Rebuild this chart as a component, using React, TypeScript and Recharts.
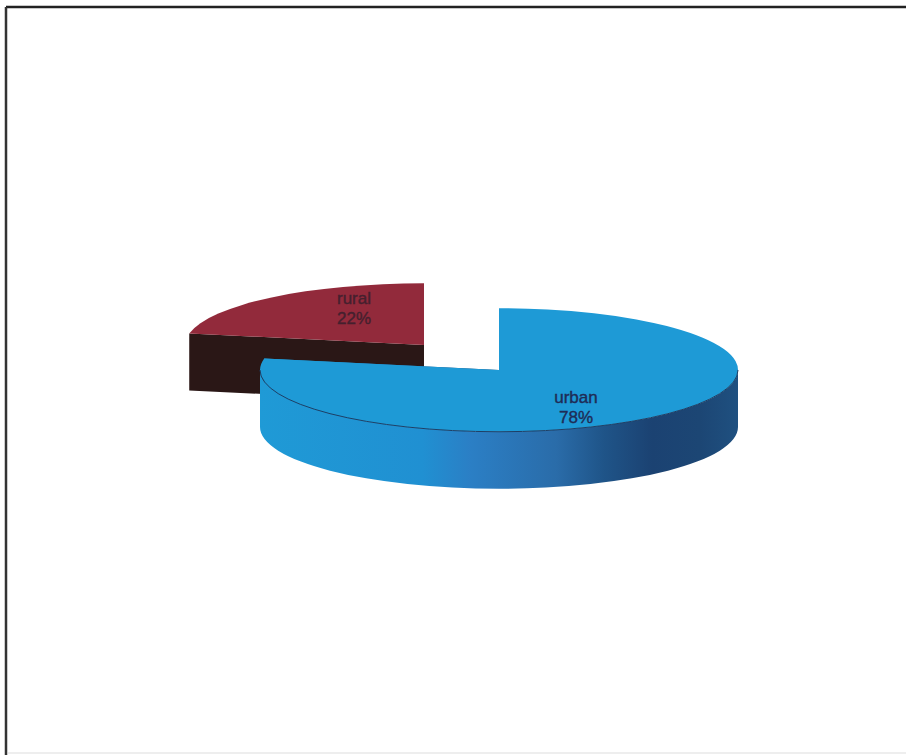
import React from 'react';
import { PieChart, Pie, Cell } from 'recharts';

const categories = ['rural', 'urban'];
const shares = [22, 78];
const topColors = ['#922a3b', '#1e9ad6'];
const sideColors = ['#2a1716', 'url(#urbanSide)'];

const pieData = categories.map((name, i) => ({ name, value: shares[i] }));
// rural is drawn first so urban sits in front of it; urban starts at 12 o'clock
const startAngle = 90 + (360 * shares[0]) / (shares[0] + shares[1]);

const SQUASH = 62 / 240;
const DEPTH = 57;
const RURAL_SHIFT = [-75, -25];
const RAD = Math.PI / 180;

const Slice3D = (props: any) => {
  const { outerRadius: r, startAngle: a0, endAngle: a1, index, name } = props;
  const cx = props.cx + (name === 'rural' ? RURAL_SHIFT[0] : 0);
  const cy = props.cy + (name === 'rural' ? RURAL_SHIFT[1] : 0);
  const ry = r * SQUASH;
  const pt = (a: number, drop = 0) =>
    [cx + r * Math.cos(a * RAD), cy - ry * Math.sin(a * RAD) + drop].join(' ');
  const hi = Math.max(a0, a1);
  const lo = Math.min(a0, a1);
  const large = hi - lo > 180 ? 1 : 0;
  const top = `M${cx} ${cy} L${pt(hi)} A${r} ${ry} 0 ${large} 1 ${pt(lo)} Z`;
  const cut = (a: number) =>
    `M${cx} ${cy} L${pt(a)} L${pt(a, DEPTH)} L${cx} ${cy + DEPTH} Z`;
  // outer wall is only visible on the front half of the ellipse
  const showWall = lo < 0 && hi > -180;
  const wallHi = Math.min(hi, 0);
  const wallLo = Math.max(lo, -180);
  const wall = `M${pt(wallHi)} A${r} ${ry} 0 0 1 ${pt(wallLo)} L${pt(wallLo, DEPTH)} A${r} ${ry} 0 0 0 ${pt(wallHi, DEPTH)} Z`;
  const rim = `M${pt(wallHi)} A${r} ${ry} 0 0 1 ${pt(wallLo)}`;
  return (
    <g>
      <path d={cut(hi)} fill={sideColors[index]} />
      <path d={cut(lo)} fill={sideColors[index]} />
      {showWall && <path d={wall} fill={sideColors[index]} />}
      <path d={top} fill={topColors[index]} />
      {showWall && <path d={rim} fill="none" stroke="#1d3f66" strokeWidth={1} />}
    </g>
  );
};

const labelShift: Record<string, number[]> = { rural: [-145, -66], urban: [77, 33] };

const renderLabel = (props: any) => {
  const { cx, cy, name, value } = props;
  const [dx, dy] = labelShift[name];
  const color = name === 'rural' ? '#45202e' : '#1e2c56';
  return (
    <text
      x={cx + dx}
      y={cy + dy}
      textAnchor="middle"
      fontFamily="Liberation Sans, Arial, sans-serif"
      fontSize={17}
      fill={color}
      stroke={color}
      strokeWidth={0.4}
    >
      <tspan x={cx + dx}>{name}</tspan>
      <tspan x={cx + dx} dy={19.5}>{value}%</tspan>
    </text>
  );
};

export default function App() {
  return (
    <div style={{ position: 'absolute', left: 0, top: 0, width: 906, height: 755, background: '#fff' }}>
      <PieChart width={906} height={755} margin={{ top: 0, right: 0, bottom: 0, left: 0 }}>
        <defs>
          <linearGradient id="urbanSide" x1="0" y1="0" x2="1" y2="0">
            <stop offset="0" stopColor="#1f9ad6" />
            <stop offset="0.34" stopColor="#2090d2" />
            <stop offset="0.44" stopColor="#2b7fc5" />
            <stop offset="0.62" stopColor="#2a6ca9" />
            <stop offset="0.72" stopColor="#1f5488" />
            <stop offset="0.82" stopColor="#1b4272" />
            <stop offset="0.92" stopColor="#1c4674" />
            <stop offset="1" stopColor="#1f5080" />
          </linearGradient>
        </defs>
        <line x1={6} y1={7} x2={906} y2={7} stroke="#222" strokeWidth={2.5} />
        <line x1={6} y1={7} x2={6} y2={755} stroke="#333" strokeWidth={2.5} />
        <line x1={8} y1={753} x2={906} y2={753} stroke="#ddd" strokeWidth={1} />
        <Pie
          data={pieData}
          dataKey="value"
          nameKey="name"
          cx={499}
          cy={370}
          innerRadius={0}
          outerRadius={239}
          startAngle={startAngle}
          endAngle={startAngle - 360}
          stroke="none"
          shape={Slice3D}
          label={renderLabel}
          labelLine={false}
          isAnimationActive={false}
        >
          {pieData.map((d, i) => (
            <Cell key={d.name} fill={topColors[i]} />
          ))}
        </Pie>
      </PieChart>
    </div>
  );
}
